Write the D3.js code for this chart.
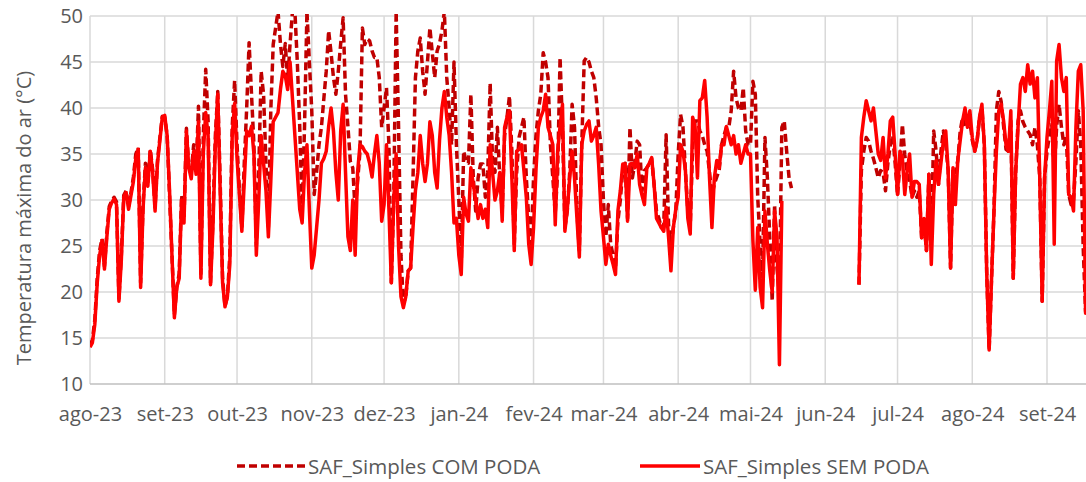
<!DOCTYPE html>
<html>
<head>
<meta charset="utf-8">
<script src="https://cdn.jsdelivr.net/npm/d3@7"></script>
<style>
  body { margin: 0; background: #ffffff; }
  svg { display: block; }
  text { font-family: "Open Sans", "Noto Sans", sans-serif; fill: #595959; }
</style>
</head>
<body>
<svg id="chart" width="1086" height="482"></svg>
<script>
// Daily maximum air temperature (°C), one value per day starting 2023-08-01.
// null = no record for that day.
const firstDay = Date.UTC(2023, 7, 1);
const monthNames = ["jan", "fev", "mar", "abr", "mai", "jun", "jul", "ago", "set", "out", "nov", "dez"];
const yTicks = [10, 15, 20, 25, 30, 35, 40, 45, 50];
const seriesNames = ["SAF_Simples COM PODA", "SAF_Simples SEM PODA"];

const comPoda = [
  14.2, 14.8, 17, 21.5, 24.5, 25.8, 22.8, 26.5, 29.3, 29.9,
  30.3, 29.8, 19.3, 24, 30.5, 31, 29.3, 30.8, 32.5, 35,
  35.7, 21, 29.5, 34, 31.8, 35.5, 33.3, 29.2, 34.3, 36.8,
  39.1, 39, 37, 30.5, 24, 17.5, 20.5, 22, 30.5, 28,
  37.8, 33.5, 33, 36, 33, 40.2, 22, 37, 44.2, 38.6,
  21, 28, 37, 41.8, 32, 21.5, 18.5, 19.5, 24, 38,
  43, 36, 31, 27, 34, 40, 47.1, 41.5, 36, 25,
  33, 44, 41.5, 34, 27, 39.7, 46.9, 48.7, 50.5, 47,
  44.5, 47, 43, 47, 50.5, 50.5, 45, 38, 28.8, 38,
  50.5, 45, 39.7, 30.6, 33, 36, 37.9, 41, 44, 48.4,
  46, 43.3, 41.5, 44, 47, 49.8, 41.5, 38, 34.2, 33.5,
  28.8, 32, 35.3, 48.7, 46.9, 47.5, 47.3, 46.2, 45.5, 45.5,
  43.3, 37.9, 40, 42.2, 36, 21, 30, 50.5, 38, 24,
  18.7, 19.5, 22.3, 22.6, 32.4, 43.3, 46.2, 47.6, 44, 41.5,
  45, 48.7, 46, 43.3, 46.2, 47, 48.4, 50.5, 43.3, 40,
  36, 45, 36, 30, 23, 35.3, 34.2, 34, 41.5, 32.4,
  28.8, 32.4, 33.9, 33.9, 30.3, 33, 42.7, 34.2, 33, 37.9,
  32.4, 28.8, 37, 39, 41.3, 35.3, 25.2, 33, 36.8, 37.9,
  39, 32.4, 28, 25.2, 32.4, 37, 39.7, 41.5, 46, 45,
  43.3, 36, 32.4, 28.5, 33, 45.5, 38, 27, 28.8, 33,
  40.4, 37.9, 28.8, 24.5, 36, 45.1, 45.5, 45, 44, 43.3,
  41.1, 38, 36, 29.9, 26, 29.5, 25.2, 24, 22.6, 27.7,
  30, 33.2, 34, 28, 37.9, 32.4, 34, 36.4, 36, 31,
  33.2, 33.5, 33.9, 34.5, 31.7, 28.8, 28, 27, 27, 37.1,
  27.3, 25.2, 27, 28.8, 35, 39.3, 37.9, 33.2, 28.8, 27,
  36, 38.6, 38.6, 37.5, 37, 36, 35.3, 33, 30.6, 31.7,
  32.5, 33.2, 36, 37, 37.9, 37.9, 39.7, 44, 41.1, 40,
  39.7, 42.2, 37.5, 36, 36, 42.9, 41.5, 30.3, 25.2, 21.6,
  36.8, 32.4, 25.9, 19, 29.5, 22.6, 19.7, 37.9, 38.6, 35.3,
  32.4, 31.3, null, null, null, null, null, null, null, null,
  null, null, null, null, null, null, null, null, null, null,
  null, null, null, null, null, null, null, null, null, 20.8,
  33.2, 35.3, 36.8, 36.4, 35.3, 34.5, 33.5, 32.4, 33.2, 33,
  31, 34, 36, 37, 34, 30.5, 34, 38.2, 34.9, 33,
  32.2, 30.3, 31, 30.3, 31, 25.9, 27.5, 24.5, 32.8, 25,
  37.5, 35.3, 31.7, 35.3, 37.5, 36, 33.2, 22.6, 33.5, 33,
  34.3, 37.5, 39, 38, 37.9, 38.6, 36.5, 35.3, 36.4, 39,
  40, 36, 22, 13.7, 21.5, 28.8, 39.7, 41.8, 40.7, 38,
  35.5, 35.3, 38.6, 21.5, 33, 38.6, 39.7, 38.5, 37.9, 37.5,
  37.1, 36, 37.9, 36, 32.4, 19, 32.4, 35.3, 37, 38.2,
  33, 38, 40.4, 37.9, 36, 37, 30.6, 29.5, 30, 34.2,
  39.7, 36, 25, 17.9, 20
];

const semPoda = [
  14.0, 14.5, 16.5, 21, 24, 25.6, 22.5, 26, 29, 29.7,
  30.1, 29.5, 19, 23.5, 30.3, 30.8, 29, 30.5, 32, 34.5,
  35.5, 20.5, 29, 33.5, 31.5, 35.3, 33, 28.8, 34, 36.5,
  39, 39.2, 37, 31, 24, 17.2, 20.5, 21.5, 30, 27.5,
  37.5, 33.5, 32.3, 35.3, 32.8, 38.5, 21.5, 35, 39.5, 37,
  20.8, 27, 36, 41.5, 31, 21, 18.4, 19.5, 23, 37,
  40.5, 34.5, 30.5, 26.6, 32, 37.5, 37, 38, 35, 24,
  30, 37, 34, 31, 26, 32, 38.5, 39, 39.5, 42,
  44, 43.5, 42, 45, 41, 37, 33, 29, 27.5, 33,
  36, 29, 22.6, 24, 27, 30, 34, 34.5, 35.3, 38,
  40, 37.5, 33, 30, 37.5, 40.4, 33, 26, 24.5, 30,
  24, 33, 36, 35.8, 35.3, 35, 34, 32.5, 35, 37,
  34, 27.7, 29.5, 36, 29, 21, 30, 35, 25, 19.5,
  18.3, 19.5, 22.3, 22.6, 27, 31, 33, 37, 34, 32,
  34, 38.5, 37, 33, 31.3, 36.5, 40, 41.8, 39, 37,
  33, 27.5, 28, 24, 21.9, 30.3, 28.5, 27.7, 33.5, 31.7,
  30, 28, 29.5, 28, 29, 27, 36, 33, 30, 31,
  33, 27.7, 37.9, 39, 39.7, 32.4, 24.5, 35.3, 35.5, 36,
  33.2, 30.3, 25.2, 23, 27, 33.2, 37.9, 39, 39.7, 41.5,
  37.9, 37, 36, 27.3, 35.3, 38, 40.4, 26.6, 29, 32.4,
  35.3, 32.4, 28, 23.8, 36, 37.5, 38.2, 38.6, 36.4, 37,
  37.9, 33.9, 28.8, 26, 23, 25.2, 24, 23, 21.9, 28.8,
  31, 33.9, 33.9, 27.7, 33.9, 34, 33.5, 35, 31.7, 30.5,
  29.5, 33.5, 34, 34.6, 31.7, 28, 27.5, 27, 26.6, 29.2,
  26, 22.3, 27, 29, 30.3, 36, 35.3, 33.2, 28, 26.3,
  39, 38, 32.4, 40.8, 41.1, 43, 39, 32.4, 27, 32.4,
  34.3, 33.5, 36, 36, 38, 37, 36, 37, 35, 36,
  34, 35, 36, 35, 35, 25.6, 20.2, 27, 20.5, 18.3,
  28.8, 25.2, 22.3, 20, 28.8, 26, 12.1, 29.9, null, null,
  null, null, null, null, null, null, null, null, null, null,
  null, null, null, null, null, null, null, null, null, null,
  null, null, null, null, null, null, null, null, null, 20.8,
  36.8, 39, 40.8, 39.7, 38.6, 40, 37.5, 35, 34.3, 36.8,
  32.4, 35, 38.6, 39, 35, 30.6, 35.3, 34.6, 30.6, 33.2,
  35, 30.3, 32, 32, 31.7, 25.9, 28, 24.5, 32.8, 23,
  30.6, 34.3, 31.7, 34, 36.4, 37.5, 33.2, 22.6, 33.5, 29.5,
  34.3, 36.5, 38.6, 40, 37.9, 39.7, 36.8, 35.3, 36.4, 39,
  40.4, 36, 22, 13.7, 21.5, 28.8, 35.3, 39.7, 40.4, 38.6,
  36, 35.3, 39.7, 21.5, 33, 38, 42.6, 43.3, 41.8, 44.7,
  42.6, 44, 41.1, 43.3, 32.4, 19, 32.4, 36.8, 39.7, 42.9,
  25.2, 45.1, 46.9, 43.3, 41.8, 43.3, 30.6, 30.3, 28.8, 37.9,
  44, 44.7, 39.7, 17.7, 20
];

const plot = { left: 90, right: 1086, top: 16, bottom: 384 };

const svg = d3.select("#chart");

const x = d3.scaleUtc()
  .domain([new Date(firstDay), new Date(Date.UTC(2024, 8, 1))])
  .range([plot.left, 1047]);
const y = d3.scaleLinear().domain([10, 50]).range([plot.bottom, plot.top]);

// month boundaries: gridlines run past the visible edge, labels stop at set-24
const gridMonths = d3.utcMonth.range(new Date(firstDay), new Date(Date.UTC(2024, 9, 2)));
const labelMonths = d3.utcMonth.range(new Date(firstDay), new Date(Date.UTC(2024, 8, 2)));
const fmtMonth = d => monthNames[d.getUTCMonth()] + "-" + String(d.getUTCFullYear()).slice(2);

// grid
const grid = svg.append("g");
grid.selectAll("line.h").data(yTicks.filter(t => t > 10)).join("line")
  .attr("x1", plot.left).attr("x2", plot.right)
  .attr("y1", d => y(d)).attr("y2", d => y(d))
  .attr("stroke", "#d9d9d9").attr("stroke-width", 1.5);
grid.selectAll("line.v").data(gridMonths).join("line")
  .attr("x1", d => x(d)).attr("x2", d => x(d))
  .attr("y1", plot.top).attr("y2", plot.bottom)
  .attr("stroke", "#d9d9d9").attr("stroke-width", 1.5);

// axes
const xAxis = svg.append("g")
  .attr("transform", `translate(0,${plot.bottom})`)
  .call(d3.axisBottom(x).tickValues(labelMonths).tickFormat(fmtMonth).tickSize(0).tickPadding(23));
xAxis.select(".domain").remove();
xAxis.selectAll("text").attr("font-size", 20).attr("fill", "#595959")
  .style("font-family", '"Open Sans", sans-serif');
svg.append("line")
  .attr("x1", plot.left).attr("x2", plot.right)
  .attr("y1", plot.bottom).attr("y2", plot.bottom)
  .attr("stroke", "#bfbfbf").attr("stroke-width", 1.5);

const yAxis = svg.append("g")
  .attr("transform", `translate(${plot.left},0)`)
  .call(d3.axisLeft(y).tickValues(yTicks).tickSize(0).tickPadding(7));
yAxis.select(".domain").remove();
yAxis.selectAll("text").attr("font-size", 20).attr("fill", "#595959")
  .style("font-family", '"Open Sans", sans-serif');

svg.append("text")
  .attr("transform", `translate(23,${(plot.top + plot.bottom) / 2 + 18}) rotate(-90)`)
  .attr("text-anchor", "middle").attr("dominant-baseline", "central")
  .attr("font-size", 20)
  .text("Temperatura máxima do ar (°C)");

// series
svg.append("clipPath").attr("id", "plot-clip")
  .append("rect").attr("x", plot.left).attr("y", plot.top - 2)
  .attr("width", plot.right - plot.left).attr("height", plot.bottom - plot.top + 4);

const toPoints = arr => arr.map((v, i) => ({ date: d3.utcDay.offset(new Date(firstDay), i), v }));
const line = d3.line()
  .defined(d => d.v !== null)
  .x(d => x(d.date)).y(d => y(d.v));

const series = [
  { name: seriesNames[0], values: toPoints(comPoda), color: "#c00000", dash: "8,4" },
  { name: seriesNames[1], values: toPoints(semPoda), color: "#ff0000", dash: null }
];

const lines = svg.append("g").attr("clip-path", "url(#plot-clip)");
series.forEach(s => {
  lines.append("path")
    .attr("d", line(s.values))
    .attr("fill", "none")
    .attr("stroke", s.color)
    .attr("stroke-width", 3.5)
    .attr("stroke-linejoin", "round")
    .attr("stroke-dasharray", s.dash);
});

// legend
const legendItems = [
  { s: series[0], x0: 237, x1: 305 },
  { s: series[1], x0: 640, x1: 700 }
];
const legend = svg.append("g");
legendItems.forEach(it => {
  legend.append("line")
    .attr("x1", it.x0).attr("x2", it.x1).attr("y1", 466).attr("y2", 466)
    .attr("stroke", it.s.color).attr("stroke-width", 3.5)
    .attr("stroke-dasharray", it.s.dash);
  legend.append("text")
    .attr("x", it.x1 + 3).attr("y", 466)
    .attr("dominant-baseline", "central")
    .attr("font-size", 20.5)
    .text(it.s.name);
});
</script>
</body>
</html>
